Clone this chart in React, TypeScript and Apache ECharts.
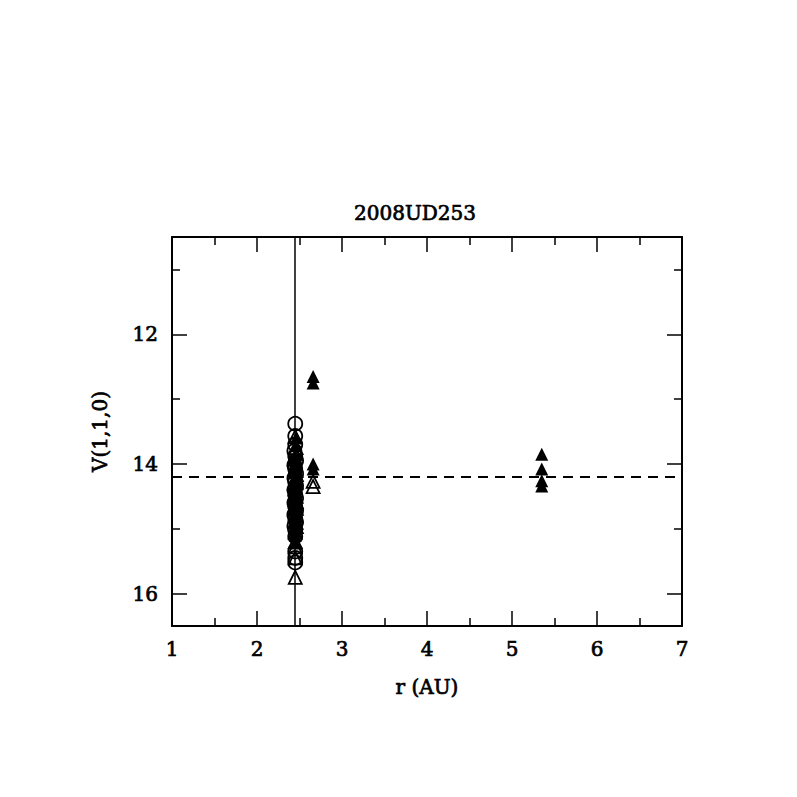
import React, { useEffect, useRef } from "react";
import * as echarts from "echarts";

const title = "2008UD253";
const xName = "r (AU)";
const yName = "V(1,1,0)";
const xRange = [1, 7];
const yRange = [10.5, 16.5];
const yMajorTicks = [12, 14, 16];
const yMinorTicks = [11, 13, 15];
const verticalR = 2.447;
const dashedV = 14.2;

const openCircles: number[][] = [
  [2.45, 13.38], [2.45, 13.57], [2.45, 13.7], [2.44, 13.8], [2.45, 13.88],
  [2.46, 13.95], [2.44, 14.02], [2.45, 14.08], [2.46, 14.15], [2.44, 14.22],
  [2.45, 14.28], [2.46, 14.34], [2.44, 14.4], [2.45, 14.47], [2.46, 14.53],
  [2.44, 14.6], [2.45, 14.66], [2.46, 14.72], [2.44, 14.78], [2.45, 14.84],
  [2.46, 14.9], [2.44, 14.96], [2.45, 15.02], [2.45, 15.12], [2.45, 15.35],
  [2.45, 15.45], [2.45, 15.52],
];

const openTriangles: number[][] = [
  [2.45, 13.58], [2.46, 13.75], [2.44, 13.92], [2.46, 14.1], [2.44, 14.3],
  [2.46, 14.5], [2.44, 14.7], [2.46, 14.9], [2.45, 15.05], [2.45, 15.2],
  [2.45, 15.28], [2.45, 15.45], [2.45, 15.75], [2.66, 14.27], [2.66, 14.35],
];

const filledTriangles: number[][] = [
  [2.46, 13.6], [2.45, 13.72], [2.47, 13.85], [2.44, 13.9], [2.46, 13.94],
  [2.45, 13.98], [2.47, 14.02], [2.44, 14.05], [2.46, 14.09], [2.44, 14.12],
  [2.47, 14.16], [2.45, 14.2], [2.44, 14.23], [2.46, 14.27], [2.47, 14.31],
  [2.44, 14.35], [2.45, 14.38], [2.46, 14.42], [2.44, 14.45], [2.47, 14.49],
  [2.45, 14.52], [2.44, 14.56], [2.46, 14.6], [2.47, 14.63], [2.44, 14.67],
  [2.45, 14.7], [2.46, 14.74], [2.44, 14.77], [2.47, 14.81], [2.45, 14.85],
  [2.44, 14.88], [2.46, 14.92], [2.45, 14.96], [2.44, 15.0], [2.46, 15.04],
  [2.43, 14.1], [2.48, 14.3], [2.43, 14.5], [2.48, 14.7], [2.43, 14.9],
  [2.48, 14.18], [2.43, 14.4], [2.48, 14.6], [2.43, 14.8], [2.48, 14.98],
  [2.45, 15.1], [2.45, 15.22],
  [2.66, 12.65], [2.66, 12.75], [2.66, 14.0], [2.66, 14.08],
  [5.35, 13.85], [5.35, 14.08], [5.35, 14.26], [5.35, 14.34],
];

const FONT = "DejaVu Serif";
const textStyle = {
  fontFamily: FONT,
  fontSize: 20,
  color: "#000",
  textBorderColor: "#000",
  textBorderWidth: 0.7,
};

export default function App() {
  const ref = useRef<HTMLDivElement>(null);
  useEffect(() => {
    if (!ref.current) return;
    const chart = echarts.init(ref.current, null, { renderer: "svg" });
    const lineStyle = { color: "#000", width: 2 };
    const xCommon = {
      type: "value",
      min: xRange[0],
      max: xRange[1],
      interval: 1,
      splitLine: { show: false },
      axisLine: { show: true, lineStyle },
      axisTick: { show: true, inside: true, length: 15, lineStyle: { color: "#000", width: 1.5 } },
      minorTick: { show: true, splitNumber: 2, length: 8, lineStyle: { color: "#000", width: 1.5 } },
    };
    const yCommon = {
      type: "value",
      min: yRange[0],
      max: yRange[1],
      inverse: true,
      splitLine: { show: false },
    };
    chart.setOption({
      animation: false,
      backgroundColor: "#fff",
      title: {
        text: title,
        left: 410,
        top: 198,
        textAlign: "center",
        textStyle: { ...textStyle, fontWeight: "normal" },
      },
      grid: { left: 172, right: 115, top: 237, bottom: 171 },
      xAxis: [
        {
          ...xCommon,
          position: "bottom",
          name: xName,
          nameLocation: "middle",
          nameGap: 51,
          nameTextStyle: textStyle,
          axisLabel: { show: true, margin: 13, ...textStyle },
        },
        { ...xCommon, position: "top", axisLabel: { show: false } },
      ],
      yAxis: [
        {
          ...yCommon,
          position: "left",
          name: yName,
          nameLocation: "middle",
          nameGap: 62,
          nameRotate: 90,
          nameTextStyle: textStyle,
          axisLine: { show: true, lineStyle },
          axisTick: { show: true, inside: true, length: 15, customValues: yMajorTicks, lineStyle: { color: "#000", width: 1.5 } },
          axisLabel: { show: true, customValues: yMajorTicks, margin: 14, ...textStyle },
        },
        {
          ...yCommon,
          position: "left",
          axisLine: { show: false },
          axisTick: { show: true, inside: true, length: 8, customValues: yMinorTicks, lineStyle: { color: "#000", width: 1.5 } },
          axisLabel: { show: false, customValues: yMinorTicks },
        },
        {
          ...yCommon,
          position: "right",
          axisLine: { show: true, lineStyle },
          axisTick: { show: true, inside: true, length: 15, customValues: yMajorTicks, lineStyle: { color: "#000", width: 1.5 } },
          axisLabel: { show: false, customValues: yMajorTicks },
        },
        {
          ...yCommon,
          position: "right",
          axisLine: { show: false },
          axisTick: { show: true, inside: true, length: 8, customValues: yMinorTicks, lineStyle: { color: "#000", width: 1.5 } },
          axisLabel: { show: false, customValues: yMinorTicks },
        },
      ],
      series: [
        {
          type: "line",
          data: [[verticalR, yRange[0]], [verticalR, yRange[1]]],
          symbol: "none",
          lineStyle: { color: "#000", width: 1.5 },
          z: 1,
        },
        {
          type: "line",
          data: [[xRange[0], dashedV], [xRange[1], dashedV]],
          symbol: "none",
          lineStyle: { color: "#000", width: 2, type: [10, 7] },
          z: 1,
        },
        {
          type: "scatter",
          data: openCircles,
          symbol: "circle",
          symbolSize: 14,
          itemStyle: { color: "transparent", borderColor: "#000", borderWidth: 1.8, opacity: 1 },
          z: 3,
        },
        {
          type: "scatter",
          data: openTriangles,
          symbol: "triangle",
          symbolSize: 13,
          itemStyle: { color: "transparent", borderColor: "#000", borderWidth: 1.8, opacity: 1 },
          z: 3,
        },
        {
          type: "scatter",
          data: filledTriangles,
          symbol: "triangle",
          symbolSize: 13,
          itemStyle: { color: "#000", opacity: 1 },
          z: 4,
        },
      ],
    });
    return () => chart.dispose();
  }, []);
  return (
    <div
      ref={ref}
      style={{ position: "fixed", left: 0, top: 0, width: 797, height: 797, background: "#fff" }}
    />
  );
}
